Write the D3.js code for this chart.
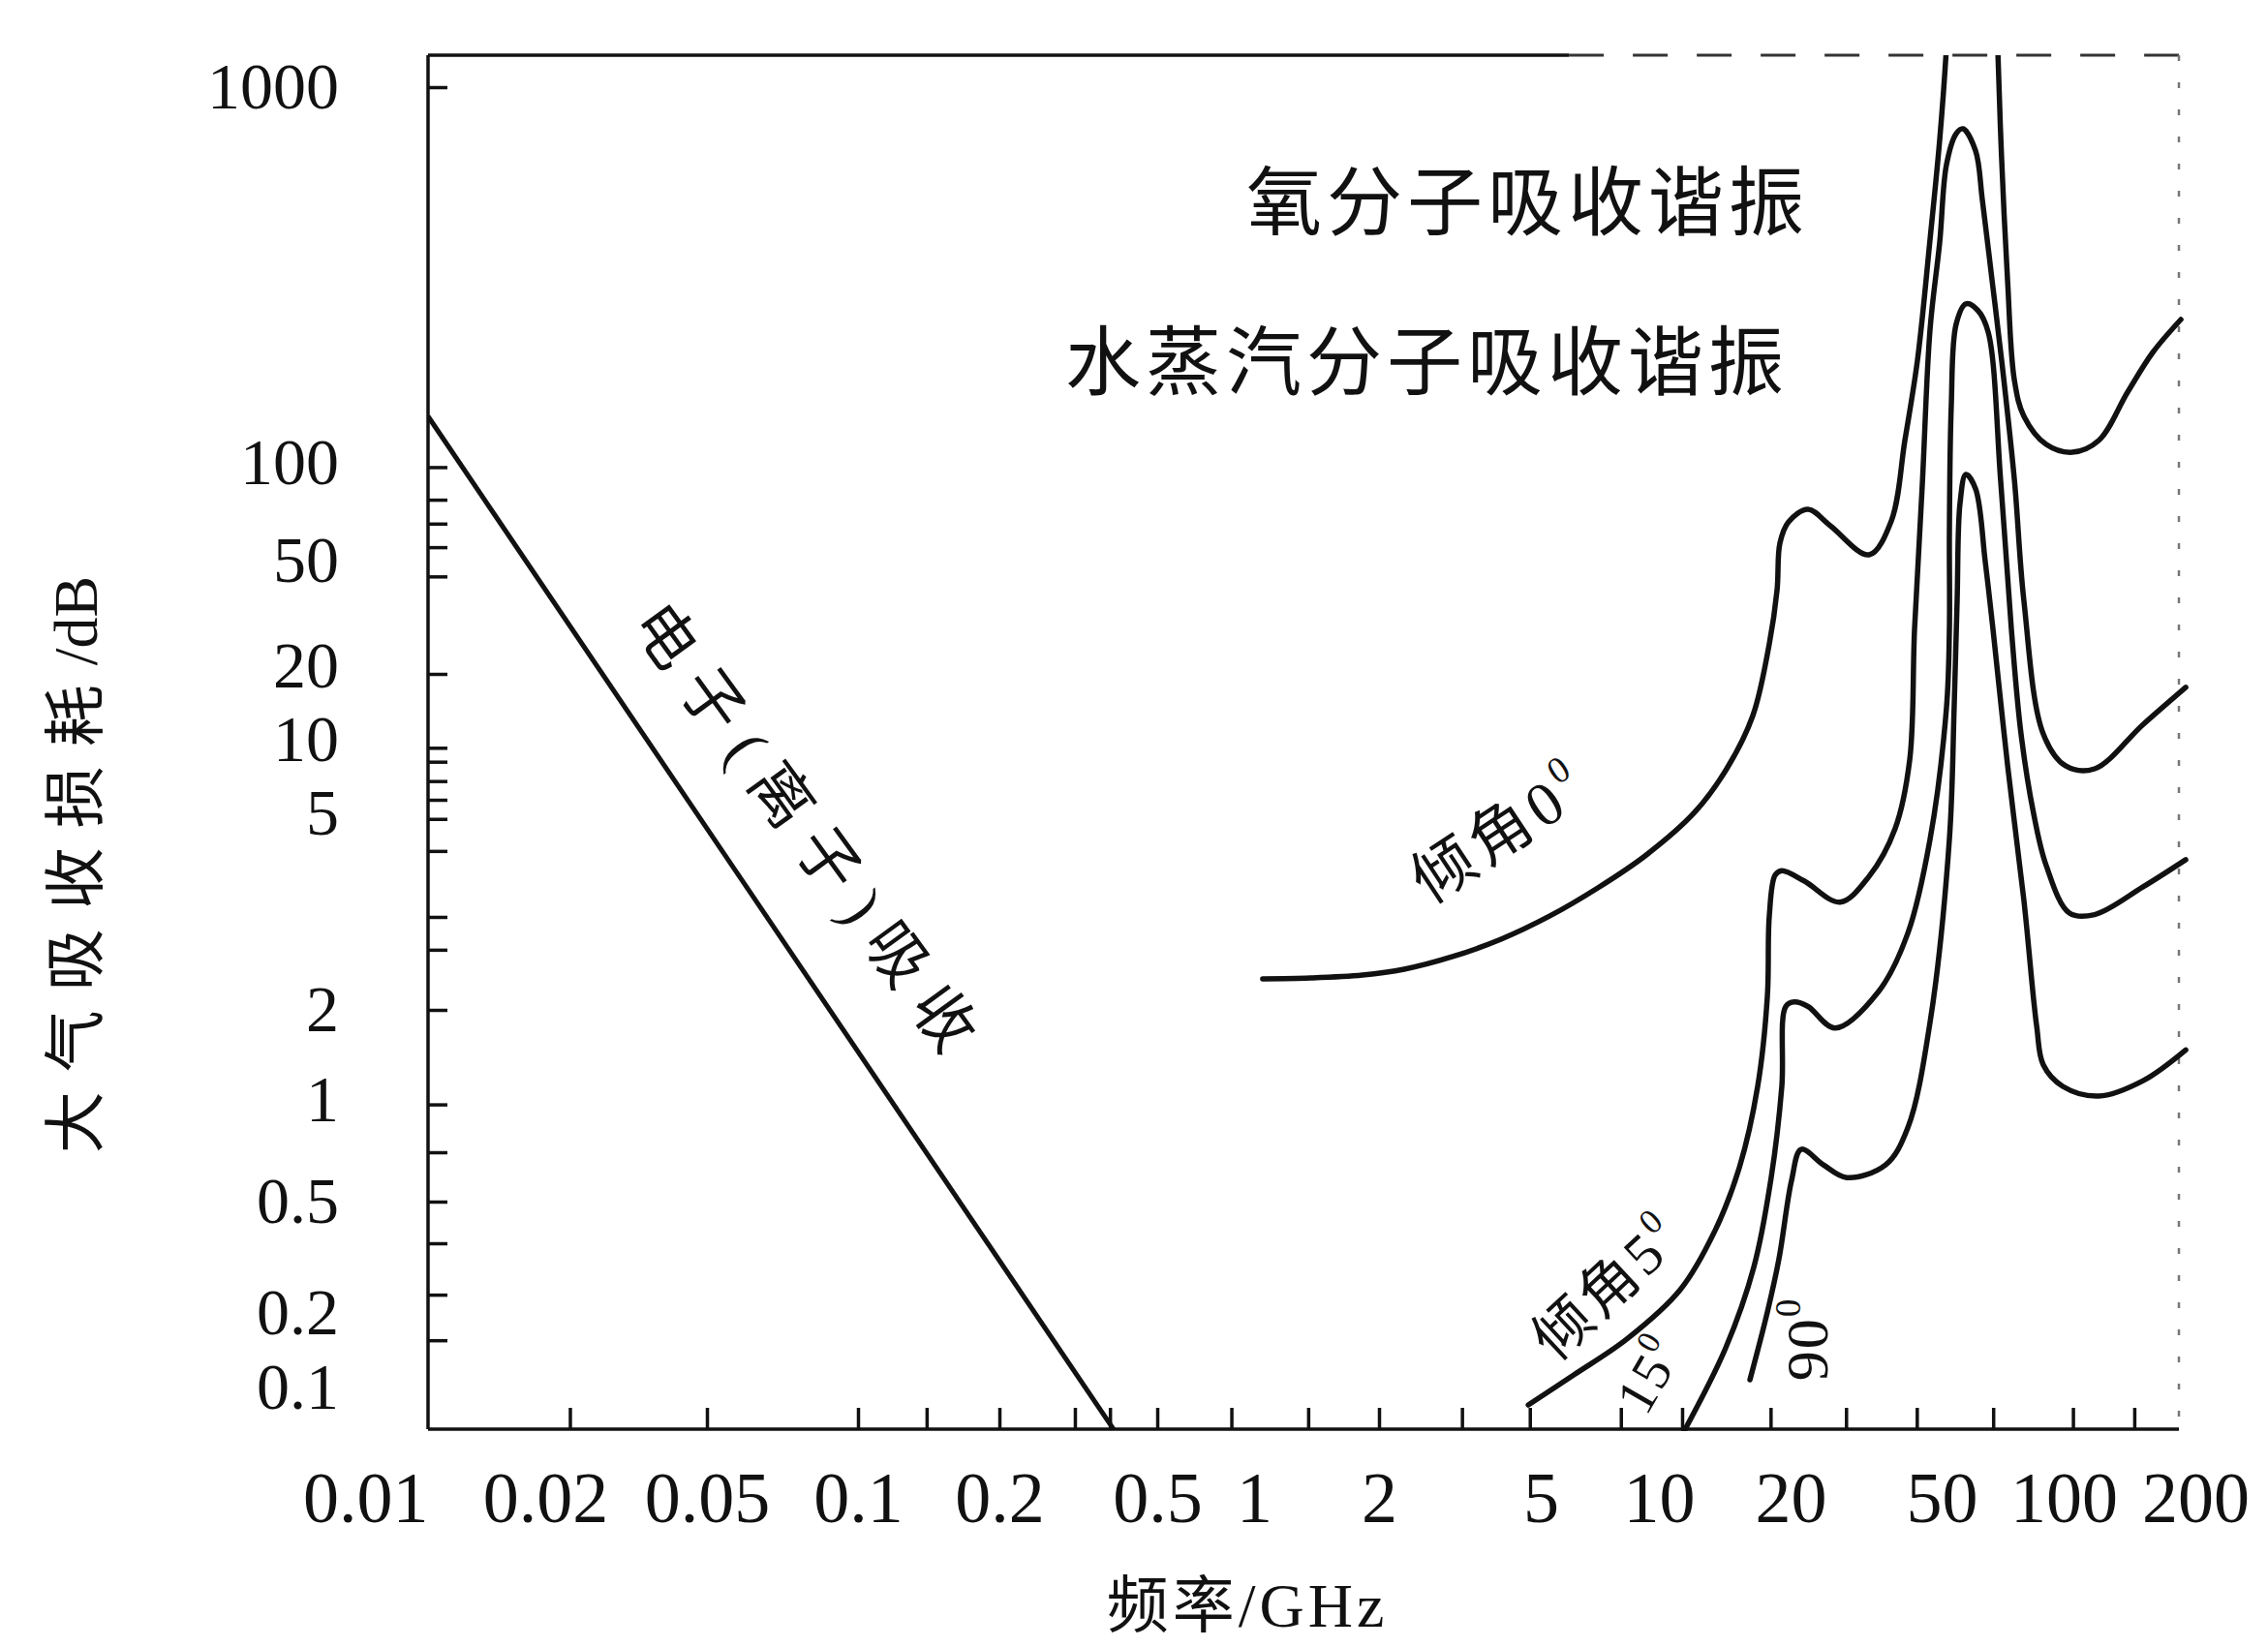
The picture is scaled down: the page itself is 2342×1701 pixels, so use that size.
<!DOCTYPE html>
<html><head><meta charset="utf-8">
<script src="https://cdn.jsdelivr.net/npm/d3@7"></script>
<style>
html,body{margin:0;padding:0;background:#fff;}
svg{display:block;}
</style></head><body>
<svg id="chart" width="2342" height="1701"></svg>
<script>
// ---------------- data ----------------
const xLabelValues = [0.01,0.02,0.05,0.1,0.2,0.5,1,2,5,10,20,50,100,200];
const xLabelText   = ["0.01","0.02","0.05","0.1","0.2","0.5","1","2","5","10","20","50","100","200"];
const xMinorTicks  = [0.023,0.05,0.1,0.14,0.2,0.31,0.38,0.5,0.85,1.35,2,3.2,4.7,8,11.3,18,28,43,67,105,145];

const yLabelValues = [0.1,0.2,0.5,1,2,5,10,20,50,100,1000];
const yLabelText   = ["0.1","0.2","0.5","1","2","5","10","20","50","100","1000"];
const yMinorTicks  = [1000,97,77,65,55,44,20,9.5,8,6.3,5,4.6,4,3,2.6,2,0.97,0.7,0.5,0.36,0.24,0.16];

// electron (ion) absorption: straight line
const electronFreq = [0.01, 0.388];
const electronLoss = [133, 0.066];

// tilt 0°
const tilt0Freq = [1.049,1.366,1.825,2.307,3.035,3.993,5.263,6.99,9.29,12.07,14.29,16.40,17.88,18.63,18.91,19.79,22.23,25.45,32.19,36.85,40.0,43.18,46.61,49.42,51.39,51.96,59.65,68.4,68.8,70.3,72.7,75.6,79.8,90.6,104.7,120.2,140.0,159.8,185.3];
const tilt0Loss = [2.29,2.299,2.328,2.388,2.523,2.722,3.01,3.405,3.931,4.734,7.33,13.22,25.5,39.5,56.6,65.8,71.9,64.0,52.1,66.3,114.6,187.6,394,726,1283,1706,2295,1706,1253,645,307,165.6,133,111.9,106.7,114.6,154.2,196.7,240.7];

// tilt 5°
const tilt5Freq = [4.66,6.07,8.29,11.19,13.44,15.27,16.82,17.70,17.88,18.44,19.10,21.71,26.99,32.19,37.71,41.19,42.42,44.47,46.61,49.42,51.39,54.29,56.43,60.64,62.99,66.56,70.3,75.6,79.8,89.07,101.0,117.7,151.9,190.1];
const tilt5Loss = [0.0841,0.1133,0.1619,0.2495,0.398,0.630,1.110,2.122,3.01,3.60,3.67,3.51,3.20,3.58,4.41,8.17,28.7,86.0,227,387,622,752,775,676,502,307,187.6,88.4,36.0,11.0,7.60,7.33,12.1,17.5];

// tilt 15°
const tilt15Freq = [11.36,14.21,16.48,18.06,19.10,19.50,20.47,22.23,26.20,34.15,40.70,46.61,51.39,52.25,52.25,52.8,54.29,57.37,61.31,65.12,69.9,74.3,78.5,84.3,90.6,103.1,117.7,151.9,190.1];
const tilt15Loss = [0.0636,0.148,0.298,0.589,1.110,2.03,2.07,2.03,1.74,2.17,2.79,4.21,14.3,28.7,61.0,141,234,265,255,223,88.4,28.7,11.0,4.71,3.75,3.05,3.03,3.42,3.85];

// tilt 90°
const tilt90Freq = [16.15,17.70,18.82,20.12,21.33,24.42,28.12,35.57,40.70,46.61,52.25,53.68,54.60,55.50,57.37,60.64,64.05,66.93,72.7,79.8,85.8,89.07,99.5,120.2,151.9,190.1];
const tilt90Loss = [0.108,0.209,0.319,0.578,0.714,0.642,0.589,0.642,0.826,1.82,4.21,14.3,36.3,75.0,92.1,83.1,49.6,28.7,7.69,3.22,1.76,1.31,1.11,1.03,1.16,1.47];

// annotations: [text, freq, loss]
const noteO2    = ["氧分子吸收谐振", 0.946, 511];
const noteH2O   = ["水蒸汽分子吸收谐振", 0.293, 192];
const noteElec  = ["电子(离子)吸收", 0.0801, 4.30];
const noteT0    = ["倾角0", 3.97, 4.33];
const noteT5    = ["倾角5", 7.40, 0.2533];
const noteT15   = ["15", 9.45, 0.1133];
const noteT90   = ["90", 22.1, 0.1619];

// ---------------- layout ----------------
const W = 2342, H = 1701;
const plotTop = 57, plotBottom = 1476, plotRight = 2250;
// hand-drawn, irregular axis: pixel position of each labelled value
const xPix = [442,563,730,886,1032,1195,1295,1424,1591,1713,1849,2005,2131,2267];
const yPix = [1433,1361,1241,1136,1043,826,768,696,579,478,90];
// small vertical nudges so crowded y labels do not collide (px)
const yLabelNudge = [0,-5,0,0,0,14,-4,-8,0,0,0];

const x = d3.scaleLog().domain(xLabelValues).range(xPix);
const y = d3.scaleLog().domain(yLabelValues).range(yPix);
const plotLeft = x(0.01);

const serif = "'Liberation Serif','Noto Sans CJK SC',serif";
const cjk = "'Noto Sans CJK SC','Liberation Serif',sans-serif";
const ink = "#111";

const svg = d3.select("#chart").attr("viewBox", `0 0 ${W} ${H}`);
svg.append("rect").attr("width", W).attr("height", H).attr("fill", "#fff");

svg.append("defs").append("clipPath").attr("id", "plotClip")
  .append("rect").attr("x", plotLeft).attr("y", plotTop)
  .attr("width", plotRight + 14 - plotLeft).attr("height", plotBottom + 2 - plotTop);

// frame
svg.append("line").attr("x1", plotLeft).attr("x2", plotLeft).attr("y1", plotTop).attr("y2", plotBottom)
  .attr("stroke", ink).attr("stroke-width", 3.5);
svg.append("line").attr("x1", plotLeft).attr("x2", plotRight).attr("y1", plotBottom).attr("y2", plotBottom)
  .attr("stroke", ink).attr("stroke-width", 3.5);
svg.append("line").attr("x1", plotLeft).attr("x2", x(5.9)).attr("y1", plotTop).attr("y2", plotTop)
  .attr("stroke", ink).attr("stroke-width", 3.5);
svg.append("line").attr("x1", x(5.9)).attr("x2", plotRight).attr("y1", plotTop).attr("y2", plotTop)
  .attr("stroke", "#333").attr("stroke-width", 3).attr("stroke-dasharray", "36,30");
svg.append("line").attr("x1", plotRight).attr("x2", plotRight).attr("y1", plotTop).attr("y2", plotBottom)
  .attr("stroke", "#777").attr("stroke-width", 2.5).attr("stroke-dasharray", "6,22");

// x ticks (inward)
const gxT = svg.append("g").attr("transform", `translate(0,${plotBottom})`)
  .call(d3.axisBottom(x).tickValues(xMinorTicks).tickSize(-22).tickFormat(() => ""));
gxT.select(".domain").remove();
gxT.selectAll(".tick line").attr("stroke", ink).attr("stroke-width", 3.5);

// x labels
const gxL = svg.append("g").attr("transform", `translate(0,${plotBottom})`)
  .call(d3.axisBottom(x).tickValues(xLabelValues).tickSize(0).tickPadding(43)
    .tickFormat((d, i) => xLabelText[i]));
gxL.select(".domain").remove();
gxL.attr("font-family", serif).attr("font-size", 74);
gxL.selectAll(".tick text").attr("fill", ink);
gxL.selectAll(".tick text").filter((d, i) => i === 0).attr("text-anchor", "end");

// y ticks (inward)
const gyT = svg.append("g").attr("transform", `translate(${plotLeft},0)`)
  .call(d3.axisLeft(y).tickValues(yMinorTicks).tickSize(-20).tickFormat(() => ""));
gyT.select(".domain").remove();
gyT.selectAll(".tick line").attr("stroke", ink).attr("stroke-width", 3.5);

// y labels
const gyL = svg.append("g").attr("transform", `translate(${plotLeft},0)`)
  .call(d3.axisLeft(y).tickValues(yLabelValues).tickSize(0).tickPadding(92)
    .tickFormat((d, i) => yLabelText[i]));
gyL.select(".domain").remove();
gyL.attr("font-family", serif).attr("font-size", 68);
gyL.selectAll(".tick text").attr("fill", ink)
  .attr("y", (d, i) => yLabelNudge[i]);

// axis titles
const yt = svg.append("text").attr("transform", "translate(78,893) rotate(-90)")
  .attr("text-anchor", "middle").attr("dominant-baseline", "central")
  .attr("font-family", serif).attr("font-size", 64).attr("fill", ink);
yt.append("tspan").attr("letter-spacing", 20).text("大气吸收损耗");
yt.append("tspan").text("/dB");
svg.append("text").attr("x", 1288).attr("y", 1658)
  .attr("text-anchor", "middle").attr("dominant-baseline", "central")
  .attr("font-family", serif).attr("font-size", 64).attr("letter-spacing", 4)
  .attr("fill", ink).text("频率/GHz");

// curves
const line = d3.line().x(d => x(d[0])).y(d => y(d[1])).curve(d3.curveCatmullRom.alpha(0.5));
const plot = svg.append("g").attr("clip-path", "url(#plotClip)");
const zip = (a, b) => a.map((v, i) => [v, b[i]]);

plot.append("path").datum(zip(electronFreq, electronLoss))
  .attr("d", d3.line().x(d => x(d[0])).y(d => y(d[1])))
  .attr("fill", "none").attr("stroke", ink).attr("stroke-width", 5);

[[tilt0Freq, tilt0Loss], [tilt5Freq, tilt5Loss], [tilt15Freq, tilt15Loss], [tilt90Freq, tilt90Loss]]
  .forEach(([f, l]) => {
    plot.append("path").datum(zip(f, l)).attr("d", line)
      .attr("fill", "none").attr("stroke", ink).attr("stroke-width", 5.5)
      .attr("stroke-linejoin", "round").attr("stroke-linecap", "round");
  });

// annotations
function note(n, opts) {
  const t = svg.append("text")
    .attr("transform", `translate(${x(n[1])},${y(n[2])}) rotate(${opts.rot || 0})`)
    .attr("text-anchor", opts.anchor || "middle").attr("dominant-baseline", "central")
    .attr("font-family", opts.family || serif).attr("font-size", opts.size)
    .attr("letter-spacing", opts.ls || 0).attr("fill", ink);
  t.append("tspan").text(n[0]);
  if (opts.sup) t.append("tspan").attr("font-size", "0.6em").attr("dy", "-0.55em").text("0");
  return t;
}
note(noteO2,  {size: 78, ls: 5, anchor: "start", family: cjk});
note(noteH2O, {size: 78, ls: 5, anchor: "start", family: cjk});
note(noteElec,{size: 64, ls: 18, rot: 54});
note(noteT0,  {size: 64, ls: 6, rot: -33.5, sup: true});
note(noteT5,  {size: 60, ls: 4, rot: -43, sup: true});
note(noteT15, {size: 56, ls: 2, rot: -60, sup: true});
note(noteT90, {size: 62, ls: 2, rot: -90, sup: true});
</script>
</body></html>
